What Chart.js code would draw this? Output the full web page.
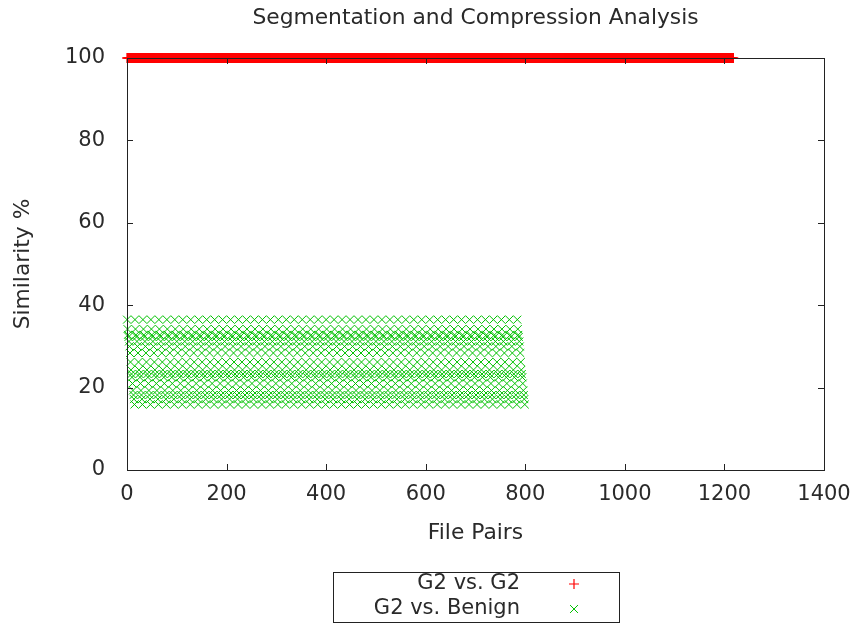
<!DOCTYPE html>
<html>
<head>
<meta charset="utf-8">
<script src="https://cdn.jsdelivr.net/npm/chart.js@4/dist/chart.umd.min.js"></script>
<style>
  html, body { margin: 0; padding: 0; background: #fff; }
  #wrap { width: 858px; height: 627px; position: relative; }
</style>
</head>
<body>
<div id="wrap"><canvas id="chart"></canvas></div>
<script>
// Data
const chartTitle = 'Segmentation and Compression Analysis';
const xTitle = 'File Pairs';
const yTitle = 'Similarity %';
const seriesNames = ['G2 vs. G2', 'G2 vs. Benign'];

// G2 vs. G2: every pair sits at 100 %, pairs 0..1218
const g2PairCount = 1219;
const g2Similarity = 100;

// G2 vs. Benign: 50 G2 samples, each against 16 benign files.
// Each benign file gives about the same similarity for every sample (the rows).
const g2Samples = 50;
const benignLevels = [36.5, 34.2, 32.8, 32.3, 31.2, 30.0, 28.4, 26.2,
                      24.3, 23.3, 22.5, 21.0, 19.3, 18.2, 17.2, 15.9];

const xTicks = [0, 200, 400, 600, 800, 1000, 1200, 1400];
const yTicks = [0, 20, 40, 60, 80, 100];

// Build point lists
const g2Points = [];
for (let i = 0; i < g2PairCount; i++) g2Points.push({ x: i, y: g2Similarity });

const benignPoints = [];
for (let s = 0; s < g2Samples; s++) {
  benignLevels.forEach((v, j) => benignPoints.push({ x: s * benignLevels.length + j, y: v }));
}

const textColor = '#2a2a2a';
const fontFamily = "'DejaVu Sans', sans-serif";
Chart.defaults.font.family = fontFamily;
Chart.defaults.font.size = 21;
Chart.defaults.color = textColor;

// gnuplot-ish frame, inward ticks, title and boxed legend
const gnuFrame = {
  id: 'gnuFrame',
  afterDatasetsDraw(chart) {
    const { ctx, chartArea: a, scales: { x, y } } = chart;
    ctx.save();
    ctx.strokeStyle = '#222';
    ctx.lineWidth = 1;
    ctx.strokeRect(a.left + 0.5, a.top + 0.5, a.right - a.left, a.bottom - a.top);
    ctx.beginPath();
    x.ticks.forEach(t => {
      const px = Math.round(x.getPixelForValue(t.value)) + 0.5;
      if (px < a.left + 2 || px > a.right - 2) return;
      ctx.moveTo(px, a.bottom); ctx.lineTo(px, a.bottom - 6);
      ctx.moveTo(px, a.top); ctx.lineTo(px, a.top + 6);
    });
    y.ticks.forEach(t => {
      const py = Math.round(y.getPixelForValue(t.value)) + 0.5;
      if (py < a.top + 2 || py > a.bottom - 2) return;
      ctx.moveTo(a.left, py); ctx.lineTo(a.left + 6, py);
      ctx.moveTo(a.right, py); ctx.lineTo(a.right - 6, py);
    });
    ctx.stroke();

    // title
    ctx.fillStyle = textColor;
    ctx.font = '21.8px ' + fontFamily;
    ctx.textAlign = 'center';
    ctx.textBaseline = 'middle';
    ctx.fillText(chartTitle, (a.left + a.right) / 2, 18);

    // legend box
    ctx.font = '21px ' + fontFamily;
    ctx.strokeStyle = '#222';
    ctx.lineWidth = 1;
    ctx.strokeRect(333.5, 572.5, 286, 50);
    ctx.textAlign = 'right';
    const rows = [584, 609];
    chart.data.datasets.forEach((ds, i) => {
      ctx.fillStyle = textColor;
      ctx.fillText(ds.label, 520, rows[i]);
      ctx.strokeStyle = ds.borderColor;
      ctx.fillStyle = ds.borderColor;
      ctx.lineWidth = ds.borderWidth;
      Chart.helpers.drawPoint(ctx, {
        pointStyle: ds.pointStyle, radius: ds.pointRadius, borderWidth: ds.borderWidth
      }, 574, rows[i]);
    });
    ctx.restore();
  }
};

new Chart(document.getElementById('chart'), {
  type: 'scatter',
  data: {
    datasets: [
      {
        label: seriesNames[0],
        data: g2Points,
        pointStyle: 'cross',
        pointRadius: 5,
        borderWidth: 1.2,
        borderColor: '#ff0000',
        backgroundColor: '#ff0000',
        clip: false
      },
      {
        label: seriesNames[1],
        data: benignPoints,
        pointStyle: 'crossRot',
        pointRadius: 5.6,
        borderWidth: 1,
        borderColor: '#00c000',
        backgroundColor: '#00c000',
        clip: false
      }
    ]
  },
  plugins: [gnuFrame],
  options: {
    responsive: true,
    maintainAspectRatio: false,
    animation: false,
    events: [],
    layout: { padding: { top: 58, right: 34, bottom: 0, left: 0 } },
    plugins: {
      legend: { display: false },
      title: { display: false },
      tooltip: { enabled: false }
    },
    scales: {
      x: {
        type: 'linear',
        min: 0, max: 1400,
        afterBuildTicks: s => { s.ticks = xTicks.map(v => ({ value: v })); },
        afterFit: s => { s.height = 157; s.paddingLeft = 0; s.paddingRight = 0; },
        grid: { display: false, drawTicks: false },
        border: { display: false },
        ticks: { padding: 12, maxRotation: 0, autoSkip: false, color: textColor, callback: v => String(v) },
        title: { display: true, text: xTitle, font: { size: 21.8 }, padding: { top: 0, bottom: 81 }, color: textColor }
      },
      y: {
        type: 'linear',
        min: 0, max: 100,
        afterBuildTicks: s => { s.ticks = yTicks.map(v => ({ value: v })); },
        afterFit: s => { s.width = 127; s.paddingTop = 0; s.paddingBottom = 0; },
        grid: { display: false, drawTicks: false },
        border: { display: false },
        ticks: { padding: 22, autoSkip: false, color: textColor, callback: v => String(v) },
        title: { display: true, text: yTitle, font: { size: 21.8 }, padding: { top: 10, bottom: 0 }, color: textColor }
      }
    }
  }
});
</script>
</body>
</html>
